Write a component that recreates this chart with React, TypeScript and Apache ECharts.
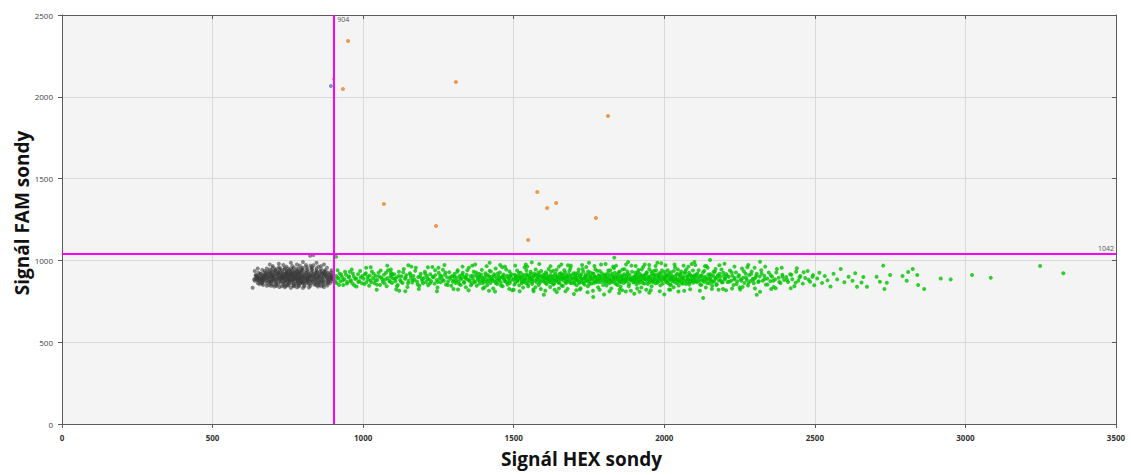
import React, { useEffect, useRef } from "react";
import * as echarts from "echarts";

const X_TITLE = "Signál HEX sondy";
const Y_TITLE = "Signál FAM sondy";
const X_THRESHOLD = 904;
const Y_THRESHOLD = 1042;

// double negative droplets (gray)
const negative: number[][] = [
  [785,893],[772,901],[798,884],[810,910],[760,887],[745,898],[822,879],[835,903],[790,920],[768,868],
  [803,872],[755,915],[740,880],[828,925],[815,890],[778,910],[795,862],[750,870],[732,905],[848,888],
  [862,900],[870,876],[855,915],[842,866],[720,892],[712,878],[705,906],[725,925],[738,860],[700,888],
  [690,900],[682,885],[675,912],[695,870],[668,896],[660,880],[655,905],[648,890],[640,875],[672,898],
  [880,892],[888,905],[893,880],[875,920],[865,862],[885,870],[896,915],[858,935],[845,940],[830,945],
  [812,938],[796,942],[780,936],[765,940],[748,934],[730,938],[715,932],[700,930],[688,928],[805,850],
  [788,848],[770,852],[752,846],[735,850],[718,855],[820,855],[838,852],[852,858],[868,850],[710,862],
  [782,878],[792,898],[776,889],[801,902],[764,895],[757,878],[812,868],[826,896],[748,908],[733,889],
  [818,918],[786,926],[771,918],[760,926],[743,920],[728,914],[840,912],[850,896],[858,880],[837,885],
  [808,882],[794,875],[779,865],[766,876],[752,894],[741,872],[724,880],[717,898],[707,916],[697,894],
  [686,912],[678,876],[664,868],[672,925],[658,918],[650,862],[644,910],[638,884],[876,906],[882,882],
  [890,895],[899,888],[895,904],[871,930],[861,870],[847,875],[831,870],[816,878],[800,860],[785,858],
  [770,842],[755,858],[742,843],[726,865],[712,844],[700,852],[692,860],[680,845],[815,948],[800,955],
  [785,950],[770,955],[752,950],[738,946],[722,945],[708,942],[695,940],[830,958],[845,952],[860,946],
  [872,940],[884,925],[890,860],[878,858],[866,884],[854,905],[842,895],[829,885],[814,900],[802,912],
  [789,905],[776,899],[763,906],[750,900],[737,895],[726,902],[714,908],[703,875],[693,882],[683,900],
  [671,887],[661,895],[652,878],[646,898],[676,905],[668,880],[684,895],[690,870],[662,890],[698,905],
  [860,965],[835,970],[810,972],[790,968],[765,965],[745,962],[720,958],[700,955],[680,950],[665,942],
  [820,835],[800,832],[780,836],[760,832],[740,836],[722,838],[705,840],[850,840],[870,838],[688,848],
  [815,862],[797,890],[781,882],[767,911],[754,885],[744,916],[731,874],[721,911],[709,888],[698,904],
  [823,906],[836,918],[849,925],[863,918],[874,898],[887,916],[897,872],[881,847],[867,922],[853,865],
  [792,932],[777,927],[761,920],[746,925],[733,928],[718,921],[705,925],[691,918],[679,922],[667,910],
  [656,872],[648,905],[640,935],[655,855],[880,955],[895,940],[652,925],[662,858],[633,833],[643,909],
  [824,1029],[835,1033],[760,985],[720,980],[845,985],[690,975],[800,990],[650,950],[870,975],[668,850],
  [787,884],[774,893],[806,894],[793,912],[762,902],[749,889],[819,896],[734,897],[811,925],[757,932],
  [783,871],[769,882],[826,912],[739,909],[796,868],[841,878],[754,872],[816,908],[727,886],[781,917],
  [788,896],[775,884],[799,905],[812,888],[764,912],[751,882],[823,902],[737,891],[830,876],[745,924],
  [792,874],[780,904],[806,920],[818,872],[769,896],[757,906],[742,880],[729,900],[716,886],[703,898],
  [796,928],[783,914],[771,930],[758,918],[746,938],[734,918],[720,926],[708,934],[694,922],[682,932],
  [804,866],[789,862],[776,856],[762,864],[749,858],[736,866],[723,872],[711,868],[699,876],[687,870],
  [838,896],[851,906],[864,892],[877,914],[889,884],[844,924],[856,872],[869,906],[882,900],[894,926],
  [827,862],[841,858],[855,850],[869,866],[884,864],[898,898],[832,934],[846,930],[861,926],[876,934],
  [676,890],[666,906],[656,890],[648,880],[670,872],[660,918],[678,912],[688,888],[696,912],[706,886],
  [714,916],[726,892],[739,904],[752,912],[765,884],[778,892],[791,884],[803,892],[816,884],[829,906],
  [842,912],[855,894],[868,918],[881,878],[893,892],[762,948],[778,946],[795,950],[812,960],[740,952],
  [725,950],[710,948],[690,945],[828,950],[852,962],[768,845],[786,840],[805,842],[748,848],[730,842],
  [712,852],[695,845],[825,845],[845,848],[862,842],[818,930],[800,938],[785,932],[770,924],[755,942],
  [680,862],[664,878],[652,896],[642,890],[673,935],[665,860],[700,965],[735,972],[780,975],[825,968],
];

// HEX positive droplets (green)
const hexPositive: number[][] = [
  [906,880],[910,905],[912,862],[918,890],[922,920],[925,872],[930,898],[934,850],[938,885],[943,912],
  [947,868],[952,895],[956,930],[960,878],[965,858],[969,902],[974,887],[978,840],[983,915],[987,873],
  [992,896],[996,860],[915,940],[962,945],[910,1022],
  [1002,888],[1006,915],[1011,866],[1015,900],[1020,845],[1024,878],[1029,932],[1033,892],[1038,860],[1042,905],
  [1047,880],[1051,925],[1056,850],[1060,895],[1065,870],[1069,912],[1074,884],[1078,842],[1083,940],[1087,875],
  [1092,900],[1092,925],[1092,945],[1093,912],[1096,862],[1099,890],
  [1103,915],[1107,872],[1111,895],[1115,850],[1119,930],[1123,880],[1127,903],[1131,862],[1135,948],[1139,888],
  [1143,910],[1147,838],[1151,876],[1155,922],[1159,894],[1163,865],[1167,905],[1171,882],[1175,955],[1179,870],
  [1183,898],[1187,845],[1191,918],[1195,886],[1199,860],[1140,812],
  [1202,892],[1205,930],[1209,868],[1212,905],[1216,848],[1219,884],[1223,915],[1226,873],[1230,960],[1233,897],
  [1237,858],[1240,910],[1244,880],[1247,835],[1251,925],[1254,890],[1258,866],[1261,902],[1265,943],[1268,876],
  [1272,912],[1275,852],[1279,895],[1282,870],[1286,928],[1289,887],[1293,845],[1297,905],
  [1301,880],[1304,918],[1307,862],[1311,895],[1314,940],[1317,873],[1321,906],[1324,850],[1327,888],[1331,925],
  [1334,868],[1337,899],[1341,836],[1344,912],[1347,884],[1351,955],[1354,872],[1357,903],[1361,858],[1364,890],
  [1367,930],[1371,866],[1374,908],[1377,845],[1381,882],[1384,918],[1387,875],[1391,897],[1394,942],[1397,860],
  [1401,895],[1404,870],[1406,922],[1409,885],[1412,848],[1415,910],[1418,878],[1420,936],[1423,862],[1426,900],
  [1429,888],[1432,828],[1435,915],[1437,872],[1440,950],[1443,893],[1446,856],[1449,905],[1452,880],[1454,926],
  [1457,866],[1460,898],[1463,842],[1466,914],[1469,884],[1471,962],[1474,870],[1477,906],[1480,852],[1483,890],
  [1486,932],[1488,876],[1491,900],[1495,818],
  [1501,886],[1503,912],[1506,864],[1508,898],[1511,938],[1513,876],[1516,905],[1518,848],[1521,890],[1523,924],
  [1526,870],[1528,902],[1531,835],[1533,882],[1536,958],[1538,894],[1541,860],[1543,916],[1546,880],[1548,842],
  [1551,908],[1553,872],[1556,930],[1558,888],[1561,856],[1563,899],[1566,812],[1568,920],[1571,878],[1573,944],
  [1576,866],[1578,904],[1581,884],[1583,850],[1586,912],[1588,875],[1591,935],[1595,895],
  [1601,870],[1603,906],[1605,888],[1607,928],[1610,855],[1612,896],[1614,875],[1616,948],[1619,884],[1621,838],
  [1623,910],[1625,866],[1628,900],[1630,880],[1632,936],[1634,858],[1637,892],[1639,918],[1641,872],[1643,806],
  [1646,903],[1648,884],[1650,962],[1652,864],[1655,898],[1657,922],[1659,846],[1661,888],[1664,912],[1666,876],
  [1668,940],[1670,895],[1673,860],[1675,905],[1677,882],[1679,826],[1682,915],[1684,870],[1686,900],[1688,952],
  [1691,886],[1695,864],
  [1701,898],[1703,872],[1705,920],[1707,886],[1709,848],[1711,908],[1713,878],[1716,944],[1718,862],[1720,896],
  [1722,830],[1724,914],[1726,882],[1728,866],[1731,930],[1733,890],[1735,852],[1737,904],[1739,876],[1741,960],
  [1743,894],[1746,842],[1748,912],[1750,884],[1752,870],[1754,926],[1756,900],[1758,858],[1761,888],[1763,815],
  [1765,918],[1767,874],[1769,902],[1771,946],[1773,866],[1776,894],[1778,880],[1780,836],[1782,910],[1784,886],
  [1786,935],[1789,868],[1792,900],[1796,878],[1764,776],
  [1800,892],[1802,868],[1804,914],[1806,880],[1808,846],[1810,902],[1812,876],[1814,938],[1816,890],[1818,860],
  [1820,906],[1822,884],[1824,828],[1826,918],[1828,872],[1831,896],[1833,954],[1835,864],[1837,900],[1839,882],
  [1834,1017],[1843,912],[1845,850],[1847,888],[1849,926],[1851,870],[1853,904],[1855,840],[1857,892],[1859,878],
  [1861,944],[1863,898],[1865,862],[1867,916],[1870,884],[1872,810],[1874,906],[1876,874],[1878,932],[1880,888],
  [1883,856],[1885,910],[1888,880],[1891,968],[1894,894],[1897,866],
  [1900,902],[1902,876],[1904,924],[1906,888],[1908,852],[1910,910],[1912,870],[1914,942],[1916,896],[1918,864],
  [1920,916],[1922,882],[1924,834],[1926,906],[1928,878],[1930,960],[1932,892],[1934,858],[1936,912],[1938,884],
  [1940,820],[1942,928],[1944,872],[1946,900],[1948,886],[1950,948],[1952,866],[1954,904],[1956,880],[1958,842],
  [1960,918],[1962,890],[1964,874],[1966,936],[1968,898],[1970,860],[1972,914],[1974,882],[1977,985],[1979,870],
  [1981,906],[1984,890],[1987,848],[1990,922],[1993,878],[1997,900],
  [2001,886],[2003,914],[2006,868],[2008,898],[2011,940],[2013,876],[2016,906],[2018,852],[2021,890],[2023,928],
  [2026,872],[2028,902],[2031,836],[2033,884],[2036,958],[2038,894],[2041,862],[2043,918],[2046,880],[2048,846],
  [2051,910],[2053,874],[2056,932],[2058,888],[2061,858],[2063,900],[2066,815],[2068,922],[2071,878],[2073,946],
  [2076,866],[2078,904],[2081,884],[2083,852],[2086,912],[2088,875],[2091,978],[2093,895],[2096,864],[2099,908],
  [2102,884],[2105,912],[2108,866],[2111,898],[2114,940],[2117,874],[2120,904],[2123,850],[2126,890],[2129,928],
  [2132,870],[2135,900],[2138,834],[2141,882],[2144,955],[2147,894],[2150,860],[2153,916],[2156,880],[2159,845],
  [2162,908],[2165,872],[2168,930],[2171,888],[2174,856],[2177,900],[2180,820],[2184,918],[2187,878],[2190,944],
  [2194,866],[2198,904],[2152,1002],[2129,770],
  [2202,888],[2206,916],[2210,868],[2214,900],[2218,938],[2222,876],[2226,906],[2230,850],[2234,892],[2238,926],
  [2242,872],[2246,902],[2250,835],[2254,884],[2258,950],[2262,894],[2266,862],[2270,918],[2274,880],[2278,846],
  [2282,910],[2286,874],[2290,932],[2294,888],[2297,860],[2279,972],
  [2302,892],[2307,918],[2312,868],[2317,902],[2318,992],[2322,940],[2327,876],[2332,906],[2337,852],[2342,890],
  [2347,926],[2352,872],[2358,900],[2363,838],[2368,884],[2374,948],[2380,894],[2386,862],[2392,912],[2398,880],
  [2307,790],[2318,808],
  [2405,898],[2411,868],[2418,915],[2425,885],[2432,842],[2438,930],[2445,876],[2452,905],[2460,858],[2468,892],
  [2476,935],[2484,870],[2492,900],[2498,848],
  [2508,890],[2515,925],[2524,862],[2533,905],[2542,878],[2552,840],[2562,918],[2574,884],[2586,948],[2598,866],
  [2612,900],[2625,875],[2634,922],[2640,839],
  [2655,865],[2661,898],[2673,839],[2705,900],[2716,870],[2727,968],[2731,825],[2739,864],[2750,911],[2791,905],
  [2805,876],[2810,929],[2825,947],[2840,911],[2843,850],[2863,825],[2918,890],[2951,884],[3022,911],[3084,894],
  [3248,966],[3325,922],
  [908,868],[915,895],[920,850],[927,912],[933,878],[940,930],[946,858],[953,903],[958,872],[966,920],
  [971,846],[977,890],[984,868],[990,935],[997,905],[1004,856],[1009,922],[1016,884],[1022,908],[1027,866],
  [1035,918],[1040,878],[1046,852],[1053,902],[1058,938],[1064,885],[1071,860],[1076,925],[1081,892],[1089,870],
  [1097,915],[1105,888],[1112,842],[1118,905],[1126,870],[1133,928],[1141,896],[1149,860],[1157,912],[1165,880],
  [1173,936],[1181,852],[1189,902],[1197,874],[1206,918],[1214,886],[1222,860],[1231,900],[1239,940],[1248,868],
  [1256,908],[1264,882],[1273,926],[1281,850],[1290,898],[1298,870],[1025,958],[1160,962],[1250,955],[1110,822],
  [1303,902],[1309,876],[1313,930],[1319,856],[1323,890],[1329,912],[1336,864],[1340,896],[1346,940],[1352,880],
  [1358,848],[1363,906],[1369,872],[1375,926],[1380,894],[1386,858],[1392,914],[1398,884],[1403,836],[1408,908],
  [1413,866],[1419,898],[1424,932],[1430,876],[1436,904],[1441,860],[1447,920],[1453,888],[1458,846],[1464,902],
  [1470,874],[1475,944],[1481,896],[1487,862],[1492,916],[1498,882],[1502,852],[1507,906],[1512,874],[1517,924],
  [1522,898],[1527,862],[1532,912],[1537,880],[1542,940],[1547,856],[1552,892],[1557,918],[1562,870],[1567,904],
  [1572,836],[1577,888],[1582,926],[1587,864],[1592,900],[1597,876],[1315,822],[1362,968],[1418,815],[1455,972],
  [1500,820],[1540,975],[1590,825],[1445,876],[1488,908],[1523,888],[1561,880],[1574,912],[1509,890],[1426,884],
  [1468,890],[1385,900],[1342,888],[1533,870],[1556,894],[1584,898],[1599,914],[1478,866],[1396,872],[1544,904],
  [1602,892],[1606,862],[1609,916],[1613,884],[1617,902],[1620,868],[1624,932],[1627,890],[1631,852],[1635,910],
  [1638,878],[1642,942],[1645,896],[1649,864],[1653,918],[1656,884],[1660,906],[1663,844],[1667,892],[1671,926],
  [1674,870],[1678,900],[1681,880],[1685,936],[1689,862],[1692,910],[1696,888],[1699,922],
  [1702,858],[1706,900],[1710,882],[1714,926],[1717,868],[1721,906],[1725,888],[1729,948],[1732,862],[1736,894],
  [1740,914],[1744,874],[1747,932],[1751,856],[1755,902],[1759,886],[1762,920],[1766,862],[1770,898],[1774,878],
  [1777,936],[1781,868],[1785,904],[1788,890],[1793,922],[1797,850],
  [1801,910],[1805,896],[1809,866],[1813,922],[1817,880],[1821,940],[1825,868],[1829,904],[1832,886],[1836,924],
  [1840,856],[1844,898],[1848,876],[1852,932],[1856,866],[1860,908],[1864,884],[1868,946],[1871,870],[1875,896],
  [1879,918],[1882,842],[1886,892],[1890,878],[1893,930],[1898,884],
  [1901,866],[1905,906],[1909,888],[1913,928],[1917,874],[1921,900],[1925,944],[1929,862],[1933,908],[1937,886],
  [1941,920],[1945,856],[1949,896],[1953,878],[1957,932],[1961,868],[1965,910],[1969,884],[1973,940],[1976,864],
  [1980,898],[1983,922],[1986,876],[1989,900],[1992,938],[1995,858],[1999,888],
  [2002,930],[2005,878],[2009,906],[2012,862],[2015,922],[2019,888],[2022,850],[2025,904],[2029,880],[2032,936],
  [2035,866],[2039,910],[2042,884],[2045,944],[2049,870],[2052,898],[2055,918],[2059,860],[2062,892],[2065,876],
  [2069,930],[2072,856],[2075,900],[2079,886],[2082,924],[2085,866],[2089,904],[2092,882],[2095,938],[2098,874],
  [1720,822],[1790,975],[1860,818],[1950,972],[2020,820],[1680,970],[1910,828],[2080,962],[1650,828],[1830,962],
  [2101,900],[2106,872],[2110,920],[2115,886],[2119,852],[2124,908],[2128,876],[2133,936],[2137,890],[2142,862],
  [2146,914],[2151,882],[2155,902],[2160,868],[2164,930],[2169,894],[2173,850],[2178,910],[2182,878],[2186,900],
  [2191,866],[2196,924],[2200,886],[2208,904],[2216,870],[2224,926],[2232,884],[2240,856],[2248,910],[2256,876],
  [2264,934],[2272,894],[2280,862],[2288,916],[2296,880],[2305,904],[2314,872],[2323,920],[2333,886],[2343,852],
  [2353,910],[2362,876],[2372,926],[2382,868],[2393,900],[2408,880],[2422,912],[2436,864],[2449,896],[2463,928],
  [2479,882],[2494,910],[2135,965],[2225,828],[2300,955],[2195,825],[2370,830],[2440,952],[2260,838],[2170,948],
  [1010,955],[1045,820],[1080,968],[1120,815],[1150,970],[1185,825],[1215,958],[1245,812],[1270,972],[1300,825],
  [1330,962],[1350,818],[1372,975],[1398,828],[1410,965],[1438,810],[1462,958],[1485,826],[1505,968],[1520,812],
  [1545,962],[1565,822],[1585,978],[1605,815],[1622,965],[1636,820],[1658,975],[1672,812],[1690,968],[1708,818],
  [1727,972],[1745,805],[1768,966],[1785,820],[1805,978],[1818,812],[1840,968],[1852,822],[1873,975],[1889,815],
  [1905,966],[1918,808],[1935,975],[1955,818],[1971,966],[1985,812],[2004,970],[2016,822],[2034,975],[2047,810],
  [2064,968],[2086,824],[2103,972],[2118,815],[2140,965],[2158,825],[2183,970],[2205,818],[2233,962],[2252,822],
  [2276,958],[2301,828],[2335,962],[2355,825],[2390,955],[2420,830],[1600,790],[1700,795],[1800,792],[1900,796],
  [2000,792],[1950,802],[1850,800],[1750,985],[1880,990],[1990,982],[1560,988],[1420,985],[2100,990],[2200,980],
];

// double positive droplets (orange)
const doublePositive: number[][] = [
  [950,2341],[933,2048],[1308,2090],[1813,1883],[1578,1418],[1611,1320],[1641,1351],
  [1773,1259],[1069,1345],[1242,1210],[1548,1125],
];

// FAM positive droplets (blue)
const famPositive: number[][] = [[893,2066]];
const faint: number[][] = [[900,2109]];

const thresholdLabels: number[][] = [[X_THRESHOLD, 2500], [3500, Y_THRESHOLD]];

export default function App() {
  const ref = useRef<HTMLDivElement>(null);
  useEffect(() => {
    if (!ref.current) return;
    const chart = echarts.init(ref.current, undefined, { renderer: "svg" });
    const frameLine = { show: true, onZero: false, lineStyle: { color: "#5a5a5a", width: 1 } };
    const plain = (v: number) => String(v);
    const labelStyle = { fontSize: 7, color: "#222", fontFamily: "Open Sans" };
    const option: any = {
      animation: false,
      backgroundColor: "#ffffff",
      grid: { left: 62, right: 15, top: 15, bottom: 51, show: true, backgroundColor: "#f4f4f4", borderWidth: 0 },
      xAxis: [
        {
          type: "value", min: 0, max: 3500, interval: 500, position: "bottom",
          axisLine: frameLine,
          axisTick: { show: true, length: 4, lineStyle: { color: "#5a5a5a" } },
          axisLabel: { fontSize: 8, color: "#333", fontWeight: "bold", margin: 9, fontFamily: "Open Sans", formatter: plain },
          splitLine: { show: true, lineStyle: { color: "#d9d9d9", width: 1 } },
        },
        {
          type: "value", min: 0, max: 3500, interval: 500, position: "top",
          axisLine: frameLine,
          axisTick: { show: true, inside: true, length: 4, lineStyle: { color: "#5a5a5a" } },
          axisLabel: { show: false }, splitLine: { show: false },
        },
      ],
      yAxis: [
        {
          type: "value", min: 0, max: 2500, interval: 500, position: "left",
          axisLine: frameLine,
          axisTick: { show: true, length: 4, lineStyle: { color: "#5a5a5a" } },
          axisLabel: { fontSize: 8, color: "#444", margin: 9, fontFamily: "Open Sans", formatter: plain },
          splitLine: { show: true, lineStyle: { color: "#d9d9d9", width: 1 } },
        },
        {
          type: "value", min: 0, max: 2500, interval: 500, position: "right",
          axisLine: frameLine,
          axisTick: { show: true, inside: true, length: 4, lineStyle: { color: "#5a5a5a" } },
          axisLabel: { show: false }, splitLine: { show: false },
        },
      ],
      graphic: [
        {
          type: "text", left: 501, top: 449,
          style: { text: X_TITLE, font: "bold 19px 'Open Sans'", fill: "#111" },
        },
        {
          type: "text", x: 22, y: 213, rotation: Math.PI / 2,
          style: { text: Y_TITLE, font: "bold 19px 'Open Sans'", fill: "#111", textAlign: "center", textVerticalAlign: "middle" },
        },
      ],
      series: [
        {
          type: "scatter", data: negative, symbolSize: 4, silent: true,
          itemStyle: { color: "#3a3a3a", opacity: 0.6 },
        },
        {
          type: "scatter", data: hexPositive, symbolSize: 4, silent: true,
          itemStyle: { color: "#00c400", opacity: 0.8 },
        },
        {
          type: "scatter", data: doublePositive, symbolSize: 4, silent: true,
          itemStyle: { color: "#f07f1e" },
        },
        {
          type: "scatter", data: famPositive, symbolSize: 4, silent: true,
          itemStyle: { color: "#4f7fd6" },
        },
        {
          type: "scatter", data: faint, symbolSize: 2.5, silent: true,
          itemStyle: { color: "#e07a8a" },
        },
        {
          type: "scatter", symbolSize: 0, silent: true, clip: false, z: 5,
          label: {
            show: true, ...labelStyle,
            formatter: (p: any) => (p.dataIndex === 0 ? String(X_THRESHOLD) : String(Y_THRESHOLD)),
          },
          data: [
            { value: thresholdLabels[0], label: { ...labelStyle, position: [3, 1], align: "left", verticalAlign: "top" } },
            { value: thresholdLabels[1], label: { ...labelStyle, position: [-2, -2], align: "right", verticalAlign: "bottom" } },
          ],
          markLine: {
            silent: true, symbol: "none", z: 4,
            lineStyle: { color: "#ff00ff", width: 2, type: "solid" },
            label: { show: false },
            data: [{ xAxis: X_THRESHOLD }, { yAxis: Y_THRESHOLD }],
          },
        },
      ],
    };
    chart.setOption(option);
    return () => chart.dispose();
  }, []);
  return (
    <div
      ref={ref}
      style={{ position: "fixed", left: 0, top: 0, width: "1131px", height: "475px" }}
    />
  );
}
